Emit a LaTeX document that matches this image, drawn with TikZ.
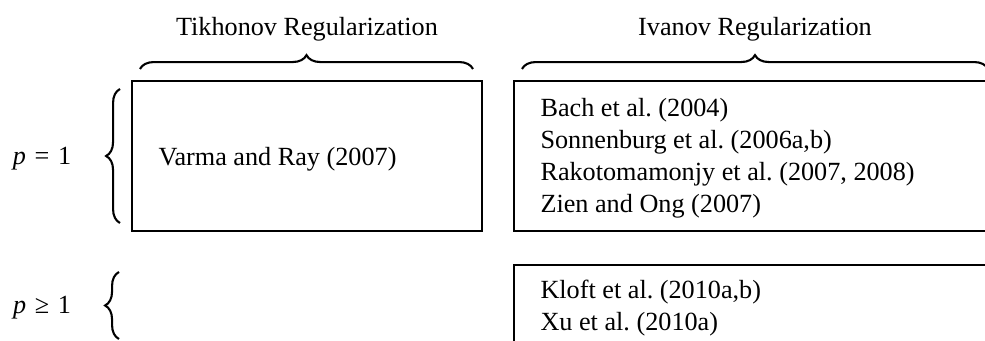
\documentclass[tikz,border=0pt]{standalone}
\usepackage{fontspec}
\setmainfont{Liberation Serif}
\usetikzlibrary{decorations.pathreplacing}
\tikzset{
  brc/.style={decorate, decoration={brace, amplitude=5.3pt}, line width=0.8pt},
  lbl/.style={inner sep=0pt, font=\fontsize{10}{12.2}\selectfont},
}

\begin{document}
\frenchspacing
\begin{tikzpicture}[x=0.01341cm, y=-0.01341cm]
\useasboundingbox (0,0) rectangle (985,341);
\clip (0,0) rectangle (985,341);
% boxes
\coordinate (tbox1) at (132,81);
\coordinate (tbox2) at (482,231);
\coordinate (ibox1) at (514,81);
\coordinate (ibox2) at (1000,231);
\coordinate (jbox1) at (514,265);
\coordinate (jbox2) at (1000,360);
\draw (tbox1) rectangle (tbox2);
\draw (ibox1) rectangle (ibox2);
\draw (jbox1) rectangle (jbox2);
% column heads
\node[lbl] (tikh) at (307,29) {Tikhonov Regularization};
\node[lbl] (ivan) at (755,29) {Ivanov Regularization};
\draw[brc] (140,69) -- (473,69);
\draw[brc] (522,69) -- (988,69);
% row heads
\node[lbl] (pone) at (42,159) {\textit{p}\hspace{3.3pt}=\hspace{3.3pt}1};
\node[lbl] (pgeq) at (42,308) {\textit{p}\hspace{3.3pt}≥\hspace{3.3pt}1};
\draw[brc] (120,223) -- (120,89);
\draw[brc] (119,339) -- (119,272);
% entries
\node[lbl, anchor=west] (varma) at (158,159) {Varma and Ray (2007)};
\node[lbl, anchor=west, align=left] (ivlist) at (540,158) {Bach et al. (2004)\\
  Sonnenburg et al. (2006a,b)\\
  Rakotomamonjy et al. (2007, 2008)\\
  Zien and Ong (2007)};
\node[lbl, anchor=west, align=left] (kloft) at (540,308) {Kloft et al. (2010a,b)\\
  Xu et al. (2010a)};
\end{tikzpicture}
\end{document}
